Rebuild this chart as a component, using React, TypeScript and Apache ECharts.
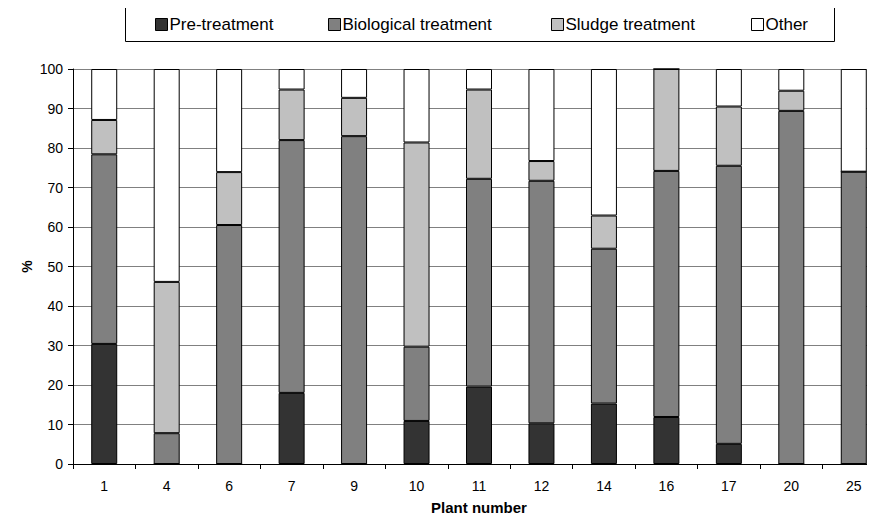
import React, { useEffect, useRef } from "react";
import * as echarts from "echarts";

const plants = ["1", "4", "6", "7", "9", "10", "11", "12", "14", "16", "17", "20", "25"];
const preTreatment = [30.4, 0, 0, 18.0, 0, 10.9, 19.6, 10.3, 15.3, 11.9, 5.1, 0, 0];
const biological = [48.0, 7.8, 60.5, 64.0, 83.0, 18.8, 52.6, 61.4, 39.2, 62.3, 70.4, 89.4, 74.0];
const sludge = [8.7, 38.3, 13.4, 12.8, 9.7, 51.7, 22.6, 5.0, 8.4, 25.8, 15.0, 5.1, 0];
const other = [12.9, 53.9, 26.1, 5.2, 7.3, 18.6, 5.2, 23.3, 37.1, 0, 9.5, 5.5, 26.0];

const seriesNames = ["Pre-treatment", "Biological treatment", "Sludge treatment", "Other"];
const seriesColors = ["#333333", "#808080", "#c0c0c0", "#ffffff"];
const seriesData = [preTreatment, biological, sludge, other];
const legendLefts = [155, 328, 551, 751];

const FONT = "Liberation Sans";

export default function App() {
  const ref = useRef<HTMLDivElement>(null);
  useEffect(() => {
    if (!ref.current) return;
    const chart = echarts.init(ref.current, null, { renderer: "svg" });
    chart.setOption({
      animation: false,
      backgroundColor: "#ffffff",
      textStyle: { fontFamily: FONT },
      graphic: [
        {
          type: "rect",
          shape: { x: 125.5, y: 4.5, width: 709, height: 37 },
          style: { fill: "none", stroke: "#000", lineWidth: 1 },
          z: 0,
        },
      ],
      legend: seriesNames.map((n, i) => ({
        data: [n],
        left: legendLefts[i],
        top: 16,
        padding: 0,
        itemWidth: 12,
        itemHeight: 12,
        icon: "rect",
        itemStyle: { borderColor: "#000", borderWidth: 1 },
        textStyle: { fontFamily: FONT, fontSize: 17, color: "#000", padding: [0, 0, 0, -3] },
        selectedMode: false,
      })),
      grid: {
        left: 73,
        top: 69,
        height: 395,
        width: 812,
        containLabel: false,
        outerBoundsMode: "none",
      },
      xAxis: {
        type: "category",
        data: plants,
        name: "Plant number",
        nameLocation: "middle",
        nameGap: 36,
        nameMoveOverlap: false,
        nameTextStyle: { fontFamily: FONT, fontSize: 15, fontWeight: "bold", color: "#000" },
        axisLine: { lineStyle: { color: "#000", width: 1 } },
        axisTick: { show: true, length: 5, lineStyle: { color: "#000" } },
        axisLabel: { fontFamily: FONT, fontSize: 14, color: "#000", margin: 15 },
        splitLine: { show: false },
      },
      yAxis: {
        type: "value",
        min: 0,
        max: 100,
        interval: 10,
        name: "%",
        nameLocation: "middle",
        nameGap: 39,
        nameMoveOverlap: false,
        nameRotate: 90,
        nameTextStyle: { fontFamily: FONT, fontSize: 14, fontWeight: "bold", color: "#000" },
        axisLine: { show: true, lineStyle: { color: "#000", width: 1 } },
        axisTick: { show: true, length: 5, lineStyle: { color: "#000" } },
        axisLabel: { fontFamily: FONT, fontSize: 14, color: "#000", margin: 10 },
        splitLine: { show: true, lineStyle: { color: "#808080", width: 1 } },
      },
      series: seriesNames.map((n, i) => ({
        name: n,
        type: "bar",
        stack: "total",
        barWidth: 26,
        data: seriesData[i],
        itemStyle: { color: seriesColors[i], borderColor: "#000", borderWidth: 1 },
      })),
    });
    return () => chart.dispose();
  }, []);
  return <div ref={ref} style={{ width: 875, height: 521, margin: -8 }} />;
}
